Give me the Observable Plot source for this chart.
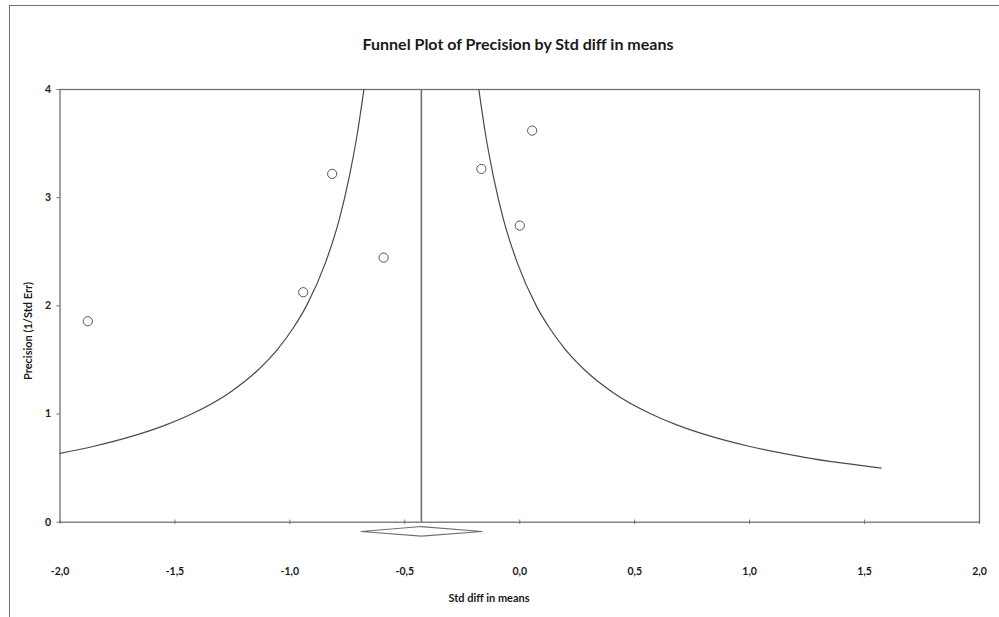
<!DOCTYPE html>
<html><head><meta charset="utf-8">
<script src="https://cdn.jsdelivr.net/npm/d3@7"></script>
<script src="https://cdn.jsdelivr.net/npm/@observablehq/plot@0.6"></script>
<style>
body{margin:0;background:#fff;}
#wrap{position:relative;width:999px;height:617px;overflow:hidden;font-family:Lato,"Open Sans",sans-serif;color:#1a1a1a;}
#border{position:absolute;left:9px;top:5px;width:1200px;height:1000px;border-left:1.5px solid #707070;border-top:1.5px solid #707070;}
#title{position:absolute;left:218px;width:600px;top:34px;line-height:20px;text-align:center;font-weight:bold;font-size:16px;}
#xlabel{position:absolute;left:389px;width:200px;top:592px;line-height:12px;text-align:center;font-weight:bold;font-size:11px;}
#ylabel{position:absolute;left:-72px;width:200px;top:325px;line-height:12px;text-align:center;font-weight:bold;font-size:11px;transform:rotate(-90deg);transform-origin:100px 6px;}
#chart{position:absolute;left:0;top:0;}
</style></head>
<body>
<div id="wrap">
<div id="border"></div>
<div id="chart"></div>
<div id="title">Funnel Plot of Precision by Std diff in means</div>
<div id="xlabel">Std diff in means</div>
<div id="ylabel">Precision (1/Std Err)</div>
</div>
<script>
// Study points (Std diff in means, Precision)
const studyX = [-1.879, -0.942, -0.816, -0.592, -0.167, 0.000, 0.054];
const studyY = [1.858, 2.126, 3.220, 2.446, 3.266, 2.742, 3.620];
// Combined effect
const combinedMean = -0.428;
// Summary diamond (below axis)
const diamondX = [-0.690, -0.428, -0.164, -0.428, -0.690];
const diamondY = [-0.086, -0.040, -0.086, -0.129, -0.086];
// Funnel limits
const rightX = [1.572, 1.390, 1.239, 1.001, 0.822, 0.683, 0.572, 0.405, 0.286, 0.197, 0.128, 0.072, -0.011, -0.071, -0.115, -0.150, -0.178];
const rightY = [0.50, 0.55, 0.60, 0.70, 0.80, 0.90, 1.00, 1.20, 1.40, 1.60, 1.80, 2.00, 2.40, 2.80, 3.20, 3.60, 4.00];
const leftX = [-2.000, -1.857, -1.678, -1.539, -1.428, -1.261, -1.142, -1.053, -0.984, -0.928, -0.845, -0.785, -0.741, -0.706, -0.678];
const leftY = [0.636, 0.70, 0.80, 0.90, 1.00, 1.20, 1.40, 1.60, 1.80, 2.00, 2.40, 2.80, 3.20, 3.60, 4.00];
// Ticks
const xTicks = [-2, -1.5, -1, -0.5, 0, 0.5, 1, 1.5, 2];
const yTicks = [0, 1, 2, 3, 4];

const studies = studyX.map((x, i) => ({x, y: studyY[i]}));
const diamond = diamondX.map((x, i) => ({x, y: diamondY[i]}));
const rightCurve = rightX.map((x, i) => ({x, y: rightY[i]}));
const leftCurve = leftX.map((x, i) => ({x, y: leftY[i]}));

const axisColor = "#707070";
const chart = Plot.plot({
  width: 999,
  height: 617,
  marginLeft: 59.5,
  marginRight: 20,
  marginTop: 89,
  marginBottom: 95.3,
  style: {fontFamily: "Lato, 'Open Sans', sans-serif", background: "transparent", color: "#1a1a1a"},
  x: {domain: [-2, 2]},
  y: {domain: [0, 4]},
  marks: [
    Plot.frame({stroke: axisColor, strokeWidth: 1.3}),
    Plot.ruleX(xTicks, {y1: -0.02, y2: 0.02, stroke: axisColor, strokeWidth: 1}),
    Plot.axisX(xTicks, {tickSize: 0, tickPadding: 45, tickFormat: d => d.toFixed(1).replace(".", ","), fontWeight: "bold", fontSize: 10.5, label: null, fill: "#1a1a1a"}),
    Plot.axisY(yTicks, {tickSize: 3, tickPadding: 6, stroke: axisColor, tickFormat: d => String(d), fontWeight: "bold", fontSize: 10.5, label: null, fill: "#1a1a1a"}),
    Plot.line(leftCurve, {x: "x", y: "y", curve: "monotone-x", stroke: "#4a4a4a", strokeWidth: 1.2}),
    Plot.line(rightCurve, {x: "x", y: "y", curve: "monotone-x", stroke: "#4a4a4a", strokeWidth: 1.2}),
    Plot.ruleX([combinedMean], {y1: 0, y2: 4, stroke: axisColor, strokeWidth: 1.6}),
    Plot.line(diamond, {x: "x", y: "y", stroke: axisColor, strokeWidth: 1.2, fill: "white"}),
    Plot.dot(studies, {x: "x", y: "y", r: 4.6, stroke: "#555", strokeWidth: 1, fill: "white"})
  ]
});
document.getElementById("chart").appendChild(chart);
</script>
</body></html>
